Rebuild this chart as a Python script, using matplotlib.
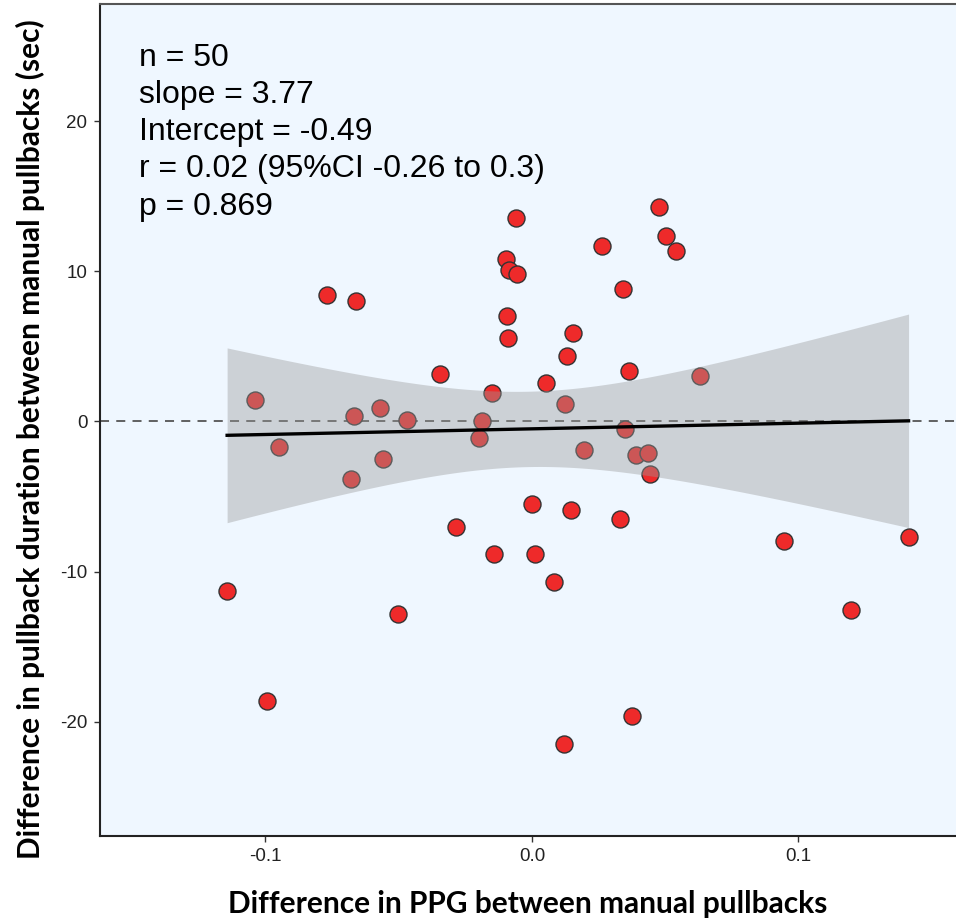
import numpy as np
import matplotlib
matplotlib.use("Agg")
import matplotlib.pyplot as plt

plt.rcParams["axes.unicode_minus"] = False

# Difference in PPG (x) vs difference in pullback duration (y)
ppg_diff = [-0.1144, -0.1039, -0.0994, -0.0949, -0.0769, -0.0660, -0.0679, -0.0669,
            -0.0569, -0.0560, -0.0469, -0.0503, -0.0346, -0.0285, -0.0150, -0.0189,
            -0.0200, -0.0143, -0.0099, -0.0085, -0.0057, -0.0095, -0.0091, -0.0060,
            0.0011, -0.0001, 0.0051, 0.0123, 0.0130, 0.0155, 0.0145, 0.0081,
            0.0119, 0.0376, 0.0475, 0.0502, 0.0539, 0.0263, 0.0343, 0.0365,
            0.0629, 0.0350, 0.0195, 0.0390, 0.0437, 0.0444, 0.0331, 0.0944,
            0.1413, 0.1197]
duration_diff = [-11.3, 1.4, -18.6, -1.7, 8.4, 8.0, -3.8, 0.35,
                 0.88, -2.5, 0.1, -12.8, 3.17, -7.0, 1.9, 0.02,
                 -1.1, -8.8, 10.8, 10.1, 9.8, 7.04, 5.56, 13.55,
                 -8.84, -5.5, 2.57, 1.18, 4.34, 5.87, -5.87, -10.7,
                 -21.5, -19.6, 14.3, 12.34, 11.36, 11.7, 8.8, 3.39,
                 3.03, -0.51, -1.9, -2.2, -2.1, -3.48, -6.49, -7.95,
                 -7.66, -12.56]

stats_lines = ["n = 50", "slope = 3.77", "Intercept = -0.49",
               "r = 0.02 (95%CI -0.26 to 0.3)", "p = 0.869"]
x_ticks = [-0.1, 0.0, 0.1]
x_ticklabels = ["-0.1", "0.0", "0.1"]
y_ticks = [-20, -10, 0, 10, 20]
slope = 3.77
intercept = -0.49

x = np.array(ppg_diff)
y = np.array(duration_diff)

# confidence band of the linear fit (t for df = 48)
n = len(x)
t_crit = 2.0106
xs = np.linspace(x.min(), x.max(), 200)
fit = intercept + slope * xs
resid = y - (intercept + slope * x)
s_err = np.sqrt(np.sum(resid ** 2) / (n - 2))
se = s_err * np.sqrt(1 / n + (xs - x.mean()) ** 2 / np.sum((x - x.mean()) ** 2))

fig = plt.figure(figsize=(9.56, 9.22), dpi=100)
ax = fig.add_axes([0.1046, 0.0933, 0.8954, 0.9024])
ax.set_facecolor("#EFF7FF")

ax.axhline(0, color="#555555", linestyle=(0, (5, 4)), linewidth=1.3, zorder=1)
ax.scatter(x, y, s=150, color="#EE2A2A", edgecolor="#333333", linewidth=1.0, zorder=2)
ax.fill_between(xs, fit - t_crit * se, fit + t_crit * se, color="#999999", alpha=0.4,
                linewidth=0, zorder=3)
ax.plot(xs, fit, color="black", linewidth=2.4, zorder=4)

ax.set_xlim(-0.1621, 0.1591)
ax.set_ylim(-27.6, 27.8)
ax.set_xticks(x_ticks)
ax.set_xticklabels(x_ticklabels)
ax.set_yticks(y_ticks)
ax.tick_params(axis="both", length=4, width=1, color="#333333", labelsize=13.5,
               labelcolor="#222222", pad=5)
for lab in ax.get_xticklabels() + ax.get_yticklabels():
    lab.set_family("Liberation Sans")

for side in ["left", "bottom"]:
    ax.spines[side].set_color("#222222")
    ax.spines[side].set_linewidth(1.5)
ax.spines["top"].set_color("#555555")
ax.spines["top"].set_linewidth(1.5)
ax.spines["right"].set_visible(False)

ax.set_xlabel("Difference in PPG between manual pullbacks", fontsize=21.5,
              fontweight="bold", family="Lato", labelpad=18)
ax.set_ylabel("Difference in pullback duration between manual pullbacks (sec)",
              fontsize=21.5, fontweight="bold", family="Lato")
ax.yaxis.set_label_coords(-0.064, 0.477)

ax.text(0.0456, 0.953, "\n".join(stats_lines), transform=ax.transAxes, fontsize=23,
        family="Liberation Sans", va="top", ha="left", linespacing=1.31)

fig.savefig("out.png", dpi=100)
